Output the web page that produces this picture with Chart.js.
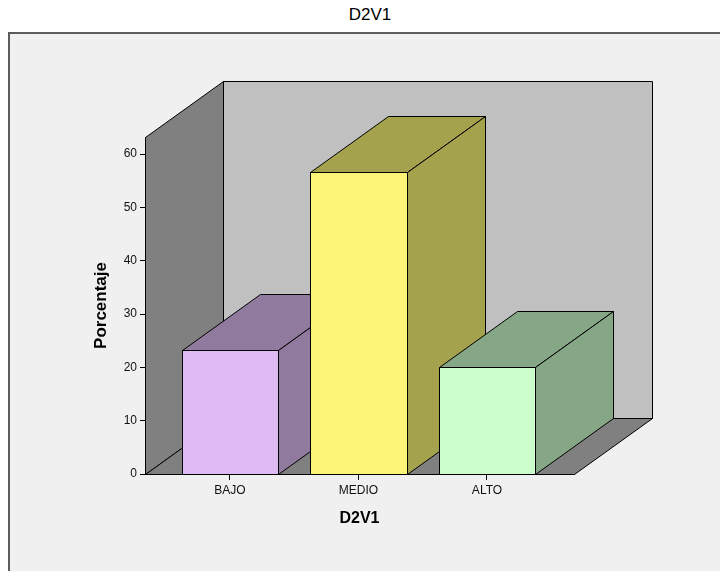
<!DOCTYPE html>
<html>
<head>
<meta charset="utf-8">
<title>D2V1</title>
<script src="https://cdn.jsdelivr.net/npm/chart.js@4.4.1/dist/chart.umd.min.js"></script>
<style>
  html, body { margin: 0; padding: 0; background: #ffffff; width: 720px; height: 571px; overflow: hidden; }
  #title {
    position: absolute; left: 9px; top: 5px; width: 722px; height: 24px;
    line-height: 24px; text-align: center; color: #000;
    font: 17px 'Liberation Sans', Arial, sans-serif;
  }
  #frame {
    position: absolute; left: 8px; top: 32px; width: 800px; height: 620px;
    background: #f0f0f0; border: 2px solid #5c5c5c;
  }
  #wrap { position: absolute; left: 0; top: 0; width: 720px; height: 571px; }
</style>
</head>
<body>
<div id="title">D2V1</div>
<div id="frame"></div>
<div id="wrap"><canvas id="chart" width="720" height="571"></canvas></div>
<script>
// Frequency of D2V1 levels, in percent
const categories = ['BAJO', 'MEDIO', 'ALTO'];
const percentages = [23.3, 56.7, 20.0];
const yTicks = [0, 10, 20, 30, 40, 50, 60];

const FONT = "'Liberation Sans', Arial, sans-serif";
const frontColors = ['#dfbbf3', '#fbf577', '#ccfecb'];
const shadeColors = ['#907b9f', '#a5a24e', '#86a786'];
const DEPTH_X = 78;   // horizontal reach of the 3D depth
const DEPTH_Y = -56;  // vertical reach of the 3D depth

const snap = v => Math.round(v) + 0.5;

function poly(ctx, pts, fill) {
  ctx.beginPath();
  ctx.moveTo(snap(pts[0][0]), snap(pts[0][1]));
  for (let k = 1; k < pts.length; k++) ctx.lineTo(snap(pts[k][0]), snap(pts[k][1]));
  ctx.closePath();
  ctx.fillStyle = fill;
  ctx.fill();
  ctx.lineWidth = 1;
  ctx.strokeStyle = '#000';
  ctx.lineJoin = 'miter';
  ctx.stroke();
}

// Draws the 3D box (walls + floor) and extruded bars
const box3d = {
  id: 'box3d',
  beforeDatasetsDraw(chart) {
    const { ctx, chartArea } = chart;
    const L = chartArea.left, R = chartArea.right, T = chartArea.top, B = chartArea.bottom;
    const dx = DEPTH_X, dy = DEPTH_Y;
    ctx.save();
    // back wall
    poly(ctx, [[L + dx, T + dy], [R + dx, T + dy], [R + dx, B + dy], [L + dx, B + dy]], '#c0c0c0');
    // left wall
    poly(ctx, [[L, B], [L, T], [L + dx, T + dy], [L + dx, B + dy]], '#808080');
    // floor
    poly(ctx, [[L, B], [L + dx, B + dy], [R + dx, B + dy], [R, B]], '#808080');
    ctx.restore();
  },
  beforeDatasetDraw() {
    return false;
  },
  afterDatasetsDraw(chart) {
    const { ctx } = chart;
    const meta = chart.getDatasetMeta(0);
    const ds = chart.data.datasets[0];
    const dx = DEPTH_X, dy = DEPTH_Y;
    ctx.save();
    meta.data.forEach((el, i) => {
      const { x, y, base, width } = el.getProps(['x', 'y', 'base', 'width'], true);
      const l = x - width / 2, r = x + width / 2;
      const shade = ds.shadeColor[i];
      // front face
      poly(ctx, [[l, y], [r, y], [r, base], [l, base]], ds.backgroundColor[i]);
      // top face
      poly(ctx, [[l, y], [l + dx, y + dy], [r + dx, y + dy], [r, y]], shade);
      // side face
      poly(ctx, [[r, y], [r + dx, y + dy], [r + dx, base + dy], [r, base]], shade);
    });
    ctx.restore();
  }
};

new Chart(document.getElementById('chart'), {
  type: 'bar',
  data: {
    datasets: [{
      label: 'Porcentaje',
      data: categories.map((c, i) => ({ x: i, y: percentages[i] })),
      backgroundColor: frontColors,
      shadeColor: shadeColors,
      borderColor: '#000',
      borderWidth: 1,
      barPercentage: 0.75,
      categoryPercentage: 1
    }]
  },
  options: {
    responsive: false,
    animation: false,
    devicePixelRatio: 1,
    layout: { padding: { top: 137, right: 146, bottom: 0, left: 0 } },
    plugins: {
      legend: { display: false },
      tooltip: { enabled: false },
      title: { display: false }
    },
    scales: {
      x: {
        type: 'linear',
        offset: false,
        bounds: 'data',
        min: -0.661,
        max: 2.677,
        afterBuildTicks: s => { s.ticks = categories.map((c, i) => ({ value: i })); },
        afterFit: s => { s.height = 97; },
        grid: { display: true, drawOnChartArea: false, drawTicks: true, tickLength: 6, color: '#000', offset: false },
        border: { display: true, color: '#000' },
        ticks: {
          autoSkip: false, maxRotation: 0, minRotation: 0, padding: 3, color: '#111',
          font: { family: FONT, size: 12 },
          callback: v => categories[v] ?? ''
        },
        title: {
          display: true, text: 'D2V1', color: '#000',
          font: { family: FONT, size: 16, weight: 'bold' },
          padding: { top: 0, bottom: 42.4 }
        }
      },
      y: {
        min: 0,
        max: 63.2,
        bounds: 'data',
        afterBuildTicks: s => { s.ticks = yTicks.map(v => ({ value: v })); },
        afterFit: s => { s.width = 145; },
        grid: { display: true, drawOnChartArea: false, drawTicks: true, tickLength: 5, color: '#000' },
        border: { display: true, color: '#000' },
        ticks: { padding: 3, color: '#111', font: { family: FONT, size: 12 } },
        title: {
          display: true, text: 'Porcentaje', color: '#000',
          font: { family: FONT, size: 17, weight: 'bold' },
          padding: { top: 90.8, bottom: 0 }
        }
      }
    }
  },
  plugins: [box3d]
});
</script>
</body>
</html>
